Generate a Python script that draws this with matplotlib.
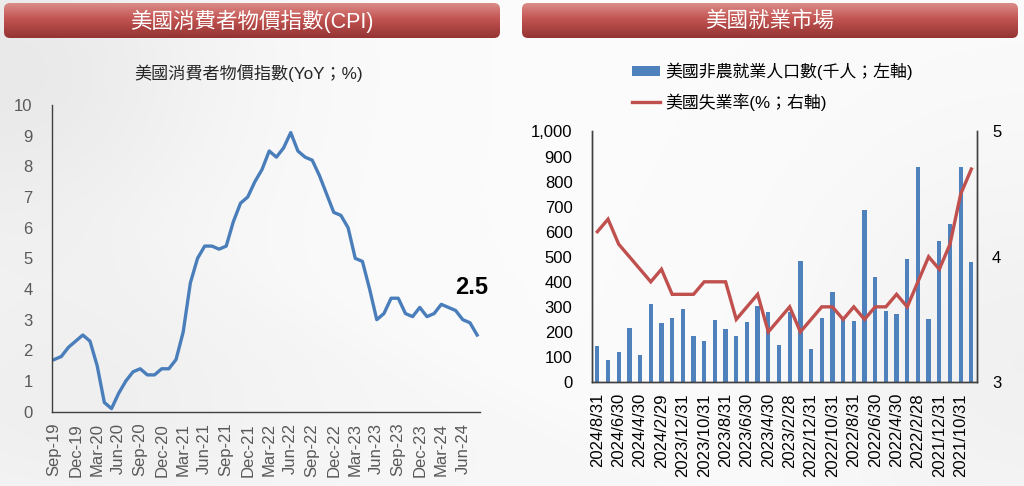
import numpy as np
import matplotlib
matplotlib.use("Agg")
import matplotlib.pyplot as plt
from matplotlib.patches import FancyBboxPatch, Patch
from matplotlib.lines import Line2D
from matplotlib.ticker import FuncFormatter

plt.rcParams['font.family'] = ['Liberation Sans', 'Noto Sans CJK TC', 'DejaVu Sans']

# ---------------- data ----------------
cpi_labels = ["Sep-19", "Dec-19", "Mar-20", "Jun-20", "Sep-20", "Dec-20", "Mar-21", "Jun-21",
              "Sep-21", "Dec-21", "Mar-22", "Jun-22", "Sep-22", "Dec-22", "Mar-23", "Jun-23",
              "Sep-23", "Dec-23", "Mar-24", "Jun-24"]
cpi_values = [1.7, 1.8, 2.1, 2.3, 2.5, 2.3, 1.5, 0.3, 0.1, 0.6, 1.0, 1.3,
              1.4, 1.2, 1.2, 1.4, 1.4, 1.7, 2.6, 4.2, 5.0, 5.4, 5.4, 5.3,
              5.4, 6.2, 6.8, 7.0, 7.5, 7.9, 8.5, 8.3, 8.6, 9.1, 8.5, 8.3,
              8.2, 7.7, 7.1, 6.5, 6.4, 6.0, 5.0, 4.9, 4.0, 3.0, 3.2, 3.7,
              3.7, 3.2, 3.1, 3.4, 3.1, 3.2, 3.5, 3.4, 3.3, 3.0, 2.9, 2.5]
cpi_last_label = "2.5"

nfp_labels = ["2024/8/31", "2024/6/30", "2024/4/30", "2024/2/29", "2023/12/31", "2023/10/31",
              "2023/8/31", "2023/6/30", "2023/4/30", "2023/2/28", "2022/12/31", "2022/10/31",
              "2022/8/31", "2022/6/30", "2022/4/30", "2022/2/28", "2021/12/31", "2021/10/31"]
nfp_values = [142, 89, 118, 216, 108, 310, 236, 256, 290, 182, 165, 246,
              210, 184, 240, 303, 278, 146, 280, 482, 133, 256, 360, 250,
              245, 688, 418, 283, 270, 491, 858, 250, 563, 630, 858, 478]
unemp_values = [4.2, 4.3, 4.1, 4.0, 3.9, 3.8, 3.9, 3.7, 3.7, 3.7, 3.8, 3.8,
                3.8, 3.5, 3.6, 3.7, 3.4, 3.5, 3.6, 3.4, 3.5, 3.6, 3.6, 3.5,
                3.6, 3.5, 3.6, 3.6, 3.7, 3.6, 3.8, 4.0, 3.9, 4.1, 4.5, 4.7]

W, H = 1024, 486
fig = plt.figure(figsize=(W / 100, H / 100), dpi=100)
fig.patch.set_facecolor('white')

# ---------------- background ----------------
bg = fig.add_axes([0, 0, 1, 1], zorder=-5)
bg.set_xlim(0, W)
bg.set_ylim(H, 0)
bg.axis('off')
xx, yy = np.meshgrid(np.linspace(0, 1, 400), np.linspace(0, 1, 200))
g = 0.985 - 0.07 * np.exp(-((xx - 0.0) ** 2 / 0.05 + (yy - 0.15) ** 2 / 0.15))
g -= 0.04 * np.exp(-((xx - 0.05) ** 2 / 0.06 + (yy - 0.85) ** 2 / 0.08))
g -= 0.04 * np.exp(-((xx - 1.0) ** 2 / 0.04 + (yy - 0.75) ** 2 / 0.2))
band = (yy * 486 - (0.42 * xx * 1024 + 190))
g -= 0.015 * (1 / (1 + np.exp(-band / 15))) * np.exp(-((xx - 0.55) ** 2) / 0.2)
rgb = np.dstack([g, g, g])
bg.imshow(rgb, extent=(0, W, H, 0), aspect='auto', zorder=0)


def banner(x0, x1, y0, y1, text):
    patch = FancyBboxPatch((x0, y0), x1 - x0, y1 - y0,
                           boxstyle="round,pad=0,rounding_size=6",
                           facecolor='none', edgecolor='none')
    bg.add_patch(patch)
    top = np.array([0.86, 0.55, 0.54])
    mid = np.array([0.76, 0.33, 0.32])
    bot = np.array([0.58, 0.20, 0.20])
    grad = np.zeros((64, 2, 3))
    for i, tv in enumerate(np.linspace(0, 1, 64)):
        if tv < 0.45:
            c = top + (mid - top) * (tv / 0.45)
        else:
            c = mid + (bot - mid) * ((tv - 0.45) / 0.55)
        grad[i, :, :] = c
    im = bg.imshow(grad, extent=(x0, x1, y1, y0), aspect='auto', zorder=1)
    im.set_clip_path(patch)
    bg.text((x0 + x1) / 2, (y0 + y1) / 2 + 1, text, color='white', fontsize=15.5,
            ha='center', va='center', zorder=2)


banner(4, 500, 3, 38, "美國消費者物價指數(CPI)")
banner(522, 1018, 3, 38, "美國就業市場")

# ---------------- left chart: CPI ----------------
axL = fig.add_axes([52 / W, 1 - 411.7 / H, (480 - 52) / W, (411.7 - 105) / H])
axL.patch.set_alpha(0)
xL = np.arange(len(cpi_values))
axL.plot(xL, cpi_values, color='#4a7ebb', lw=2.4, solid_joinstyle='round')
axL.set_xlim(-0.3, 59.4)
axL.set_ylim(0, 10)
axL.set_yticks(np.arange(0, 11, 1))
axL.set_xticks(xL[::3])
axL.set_xticklabels(cpi_labels, rotation=90)
axL.tick_params(axis='both', length=0, labelsize=12, colors='#595959')
axL.tick_params(axis='y', pad=14)
axL.tick_params(axis='x', pad=8)
for s in ['top', 'right']:
    axL.spines[s].set_visible(False)
for s in ['left', 'bottom']:
    axL.spines[s].set_color('#404040')
    axL.spines[s].set_linewidth(1.0)
axL.annotate(cpi_last_label, xy=(xL[-1], cpi_values[-1]), xytext=(-4, 34),
             textcoords='offset points', fontsize=17, fontweight='bold',
             ha='center', va='center', color='black')
fig.text(249 / W, 1 - 73 / H, "美國消費者物價指數(YoY；%)", fontsize=12.3,
         ha='center', va='center', color='#262626')

# ---------------- right chart: employment ----------------
axR = fig.add_axes([592 / W, 1 - 382 / H, (976.7 - 592) / W, (382 - 131.5) / H])
axR.patch.set_alpha(0)
xR = np.arange(len(nfp_values))
axR.bar(xR, nfp_values, width=0.4, color='#4f81bd')
axR.set_xlim(-0.5, 35.5)
axR.set_ylim(0, 1000)
axR.set_yticks(np.arange(0, 1001, 100))
axR.yaxis.set_major_formatter(FuncFormatter(lambda v, p: f"{int(v):,}"))
axR.set_xticks(xR[::2])
axR.set_xticklabels(nfp_labels, rotation=90)
axR.tick_params(axis='both', length=0, labelsize=12, colors='black')
axR.tick_params(axis='y', pad=14)
axR.tick_params(axis='x', pad=8)

axR2 = axR.twinx()
axR2.plot(xR, unemp_values, color='#c0504d', lw=2.4, solid_joinstyle='miter')
axR2.set_ylim(3, 5)
axR2.set_yticks([3, 4, 5])
axR2.tick_params(axis='y', length=0, labelsize=12, colors='black', pad=11)
for a in (axR, axR2):
    a.spines['top'].set_visible(False)
    for s in ['left', 'right', 'bottom']:
        a.spines[s].set_color('#404040')
        a.spines[s].set_linewidth(1.0)

handles = [Patch(facecolor='#4f81bd', edgecolor='none'),
           Line2D([0], [0], color='#c0504d', lw=2.4)]
labels = ["美國非農就業人口數(千人；左軸)", "美國失業率(%；右軸)"]
fig.legend(handles, labels, loc='upper left', bbox_to_anchor=(624 / W, 1 - 54 / H),
           frameon=False, fontsize=12.2, handlelength=1.6, handleheight=0.55,
           handletextpad=0.35, labelspacing=0.78, borderpad=0)

fig.savefig("out.png", dpi=100, facecolor=fig.get_facecolor())
